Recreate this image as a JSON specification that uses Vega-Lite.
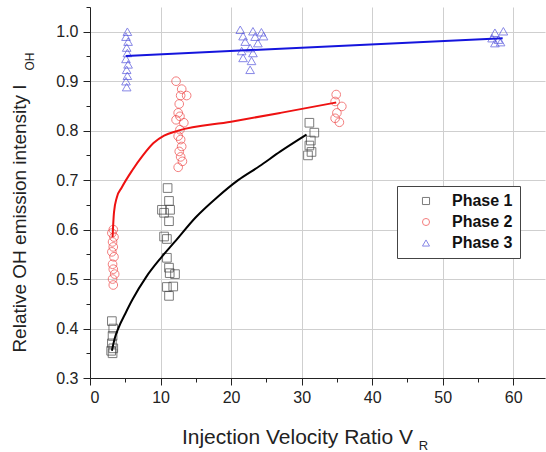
{
  "$schema": "https://vega.github.io/schema/vega-lite/v6.json",
  "width": 455,
  "height": 371,
  "autosize": {"type": "none"},
  "padding": {"left": 90, "top": 7, "right": 1, "bottom": 74},
  "background": "white",
  "config": {
    "view": {"stroke": null},
    "font": "Liberation Sans",
    "axis": {"labelFont": "Liberation Sans", "titleFont": "Liberation Sans", "titleFontWeight": "normal"}
  },
  "datasets": {
    "pts": [
      {"phase": "Phase 1", "x": 3.1, "y": 0.415}, {"phase": "Phase 1", "x": 3.3, "y": 0.4}, {"phase": "Phase 1", "x": 3.2, "y": 0.385}, {"phase": "Phase 1", "x": 3.1, "y": 0.37}, {"phase": "Phase 1", "x": 3.3, "y": 0.36}, {"phase": "Phase 1", "x": 3.2, "y": 0.35}, {"phase": "Phase 1", "x": 3.0, "y": 0.355},
      {"phase": "Phase 1", "x": 11.0, "y": 0.684}, {"phase": "Phase 1", "x": 11.2, "y": 0.658}, {"phase": "Phase 1", "x": 10.2, "y": 0.64}, {"phase": "Phase 1", "x": 11.35, "y": 0.64}, {"phase": "Phase 1", "x": 10.5, "y": 0.634}, {"phase": "Phase 1", "x": 11.2, "y": 0.617}, {"phase": "Phase 1", "x": 10.5, "y": 0.586}, {"phase": "Phase 1", "x": 10.9, "y": 0.581}, {"phase": "Phase 1", "x": 10.9, "y": 0.543}, {"phase": "Phase 1", "x": 11.2, "y": 0.523}, {"phase": "Phase 1", "x": 11.3, "y": 0.512}, {"phase": "Phase 1", "x": 12.05, "y": 0.51}, {"phase": "Phase 1", "x": 10.9, "y": 0.484}, {"phase": "Phase 1", "x": 11.8, "y": 0.485}, {"phase": "Phase 1", "x": 11.2, "y": 0.466},
      {"phase": "Phase 1", "x": 31.1, "y": 0.816}, {"phase": "Phase 1", "x": 31.8, "y": 0.796}, {"phase": "Phase 1", "x": 31.3, "y": 0.78}, {"phase": "Phase 1", "x": 31.1, "y": 0.77}, {"phase": "Phase 1", "x": 31.4, "y": 0.757}, {"phase": "Phase 1", "x": 30.9, "y": 0.75},
      {"phase": "Phase 2", "x": 3.3, "y": 0.6}, {"phase": "Phase 2", "x": 3.1, "y": 0.593}, {"phase": "Phase 2", "x": 3.4, "y": 0.585}, {"phase": "Phase 2", "x": 3.2, "y": 0.575}, {"phase": "Phase 2", "x": 3.3, "y": 0.565}, {"phase": "Phase 2", "x": 3.1, "y": 0.555}, {"phase": "Phase 2", "x": 3.4, "y": 0.545}, {"phase": "Phase 2", "x": 3.2, "y": 0.53}, {"phase": "Phase 2", "x": 3.3, "y": 0.52}, {"phase": "Phase 2", "x": 3.5, "y": 0.51}, {"phase": "Phase 2", "x": 3.2, "y": 0.5}, {"phase": "Phase 2", "x": 3.3, "y": 0.488},
      {"phase": "Phase 2", "x": 12.2, "y": 0.9}, {"phase": "Phase 2", "x": 13.0, "y": 0.884}, {"phase": "Phase 2", "x": 13.7, "y": 0.871}, {"phase": "Phase 2", "x": 12.85, "y": 0.871}, {"phase": "Phase 2", "x": 12.65, "y": 0.854}, {"phase": "Phase 2", "x": 12.5, "y": 0.836}, {"phase": "Phase 2", "x": 12.75, "y": 0.829}, {"phase": "Phase 2", "x": 12.2, "y": 0.822}, {"phase": "Phase 2", "x": 13.3, "y": 0.816}, {"phase": "Phase 2", "x": 12.75, "y": 0.802}, {"phase": "Phase 2", "x": 12.5, "y": 0.789}, {"phase": "Phase 2", "x": 12.85, "y": 0.782}, {"phase": "Phase 2", "x": 13.0, "y": 0.768}, {"phase": "Phase 2", "x": 12.65, "y": 0.758}, {"phase": "Phase 2", "x": 12.85, "y": 0.747}, {"phase": "Phase 2", "x": 13.1, "y": 0.738}, {"phase": "Phase 2", "x": 12.5, "y": 0.726},
      {"phase": "Phase 2", "x": 34.9, "y": 0.873}, {"phase": "Phase 2", "x": 34.75, "y": 0.859}, {"phase": "Phase 2", "x": 35.7, "y": 0.849}, {"phase": "Phase 2", "x": 35.0, "y": 0.836}, {"phase": "Phase 2", "x": 34.75, "y": 0.825}, {"phase": "Phase 2", "x": 35.35, "y": 0.817},
      {"phase": "Phase 3", "x": 5.3, "y": 1.0}, {"phase": "Phase 3", "x": 5.1, "y": 0.99}, {"phase": "Phase 3", "x": 5.4, "y": 0.98}, {"phase": "Phase 3", "x": 5.2, "y": 0.968}, {"phase": "Phase 3", "x": 5.3, "y": 0.957}, {"phase": "Phase 3", "x": 5.1, "y": 0.945}, {"phase": "Phase 3", "x": 5.4, "y": 0.934}, {"phase": "Phase 3", "x": 5.2, "y": 0.923}, {"phase": "Phase 3", "x": 5.3, "y": 0.911}, {"phase": "Phase 3", "x": 5.1, "y": 0.9}, {"phase": "Phase 3", "x": 5.2, "y": 0.888},
      {"phase": "Phase 3", "x": 21.3, "y": 1.004}, {"phase": "Phase 3", "x": 23.1, "y": 1.001}, {"phase": "Phase 3", "x": 24.3, "y": 0.999}, {"phase": "Phase 3", "x": 21.7, "y": 0.991}, {"phase": "Phase 3", "x": 23.4, "y": 0.99}, {"phase": "Phase 3", "x": 24.6, "y": 0.991}, {"phase": "Phase 3", "x": 22.0, "y": 0.98}, {"phase": "Phase 3", "x": 23.8, "y": 0.977}, {"phase": "Phase 3", "x": 22.7, "y": 0.967}, {"phase": "Phase 3", "x": 21.5, "y": 0.961}, {"phase": "Phase 3", "x": 23.1, "y": 0.957}, {"phase": "Phase 3", "x": 21.7, "y": 0.947}, {"phase": "Phase 3", "x": 22.9, "y": 0.941}, {"phase": "Phase 3", "x": 22.7, "y": 0.923},
      {"phase": "Phase 3", "x": 57.4, "y": 0.998}, {"phase": "Phase 3", "x": 58.6, "y": 1.001}, {"phase": "Phase 3", "x": 57.0, "y": 0.987}, {"phase": "Phase 3", "x": 57.9, "y": 0.984}, {"phase": "Phase 3", "x": 57.4, "y": 0.977}, {"phase": "Phase 3", "x": 58.2, "y": 0.979}
    ],
    "fits": [
      {"phase": "Phase 1", "x": 3.1, "y": 0.355}, {"phase": "Phase 1", "x": 3.5, "y": 0.38}, {"phase": "Phase 1", "x": 4, "y": 0.4}, {"phase": "Phase 1", "x": 5, "y": 0.43}, {"phase": "Phase 1", "x": 6, "y": 0.458}, {"phase": "Phase 1", "x": 8, "y": 0.505}, {"phase": "Phase 1", "x": 10, "y": 0.542}, {"phase": "Phase 1", "x": 12, "y": 0.575}, {"phase": "Phase 1", "x": 15, "y": 0.625}, {"phase": "Phase 1", "x": 18, "y": 0.665}, {"phase": "Phase 1", "x": 21, "y": 0.7}, {"phase": "Phase 1", "x": 24, "y": 0.728}, {"phase": "Phase 1", "x": 27, "y": 0.758}, {"phase": "Phase 1", "x": 30.7, "y": 0.792},
      {"phase": "Phase 2", "x": 3.2, "y": 0.585}, {"phase": "Phase 2", "x": 3.4, "y": 0.635}, {"phase": "Phase 2", "x": 3.8, "y": 0.665}, {"phase": "Phase 2", "x": 4.5, "y": 0.685}, {"phase": "Phase 2", "x": 6, "y": 0.72}, {"phase": "Phase 2", "x": 7.5, "y": 0.75}, {"phase": "Phase 2", "x": 9, "y": 0.775}, {"phase": "Phase 2", "x": 10.5, "y": 0.79}, {"phase": "Phase 2", "x": 12.5, "y": 0.8}, {"phase": "Phase 2", "x": 20, "y": 0.818}, {"phase": "Phase 2", "x": 27, "y": 0.836}, {"phase": "Phase 2", "x": 34.9, "y": 0.857},
      {"phase": "Phase 3", "x": 5.1, "y": 0.951}, {"phase": "Phase 3", "x": 58.5, "y": 0.987}
    ]
  },
  "resolve": {"axis": {"x": "independent", "y": "independent"}},
  "layer": [
    {
      "data": {"name": "pts"},
      "mark": {"type": "point", "filled": false, "strokeWidth": 1, "size": 75},
      "encoding": {
        "x": {"field": "x", "type": "quantitative",
          "scale": {"domain": [0, 64.5], "nice": false, "zero": false},
          "axis": {"orient": "bottom", "values": [0, 5, 10, 15, 20, 25, 30, 35, 40, 45, 50, 55, 60],
            "labelExpr": "datum.value % 10 === 0 ? datum.label : ''", "format": "d",
            "labelFontSize": 16, "labelColor": "#222",
            "tickSize": {"condition": {"test": "datum.value % 10 === 0", "value": 7}, "value": 4},
            "gridOpacity": {"condition": {"test": "datum.value % 10 === 0", "value": 1}, "value": 0},
            "tickColor": "#222", "domainColor": "#222", "labelPadding": 4, "grid": true, "gridColor": "#cfcfcf",
            "title": "Injection Velocity Ratio V", "titleFontSize": 21, "titleColor": "#222", "titleX": 207, "titleY": 65, "titleBaseline": "alphabetic"}},
        "y": {"field": "y", "type": "quantitative",
          "scale": {"domain": [0.3, 1.05], "nice": false, "zero": false},
          "axis": {"orient": "left", "values": [0.3, 0.35, 0.4, 0.45, 0.5, 0.55, 0.6, 0.65, 0.7, 0.75, 0.8, 0.85, 0.9, 0.95, 1.0, 1.05],
            "format": ".1f",
            "labelExpr": "abs(datum.value * 10 - round(datum.value * 10)) < 0.001 ? datum.label : ''",
            "tickSize": {"condition": {"test": "abs(datum.value * 10 - round(datum.value * 10)) < 0.001", "value": 7}, "value": 4},
            "gridOpacity": {"condition": {"test": "abs(datum.value * 10 - round(datum.value * 10)) < 0.001", "value": 1}, "value": 0},
            "labelFontSize": 16, "labelColor": "#222", "tickColor": "#222", "domainColor": "#222", "labelPadding": 5, "grid": true, "gridColor": "#cfcfcf",
            "title": "Relative OH emission intensity I", "titleFontSize": 19, "titleColor": "#222", "titleAngle": -90, "titleX": -65, "titleY": 211, "titleBaseline": "alphabetic"}},
        "color": {"field": "phase", "type": "nominal",
          "scale": {"domain": ["Phase 1", "Phase 2", "Phase 3"], "range": ["#444444", "#f04848", "#5555dd"]},
          "legend": {"title": null, "orient": "none", "legendX": 307, "legendY": 179, "strokeColor": "#444", "fillColor": "white", "padding": 7, "symbolOffset": 14, "labelOffset": 18, "labelFontSize": 16, "labelFontWeight": "bold", "labelColor": "#111", "labelFont": "Liberation Sans", "symbolSize": 50, "symbolStrokeWidth": 1, "rowPadding": 5}},
        "shape": {"field": "phase", "type": "nominal",
          "scale": {"domain": ["Phase 1", "Phase 2", "Phase 3"], "range": ["square", "circle", "triangle-up"]}}
      }
    },
    {
      "data": {"name": "fits"},
      "mark": {"type": "line", "strokeWidth": 2, "interpolate": "monotone"},
      "encoding": {
        "x": {"field": "x", "type": "quantitative",
          "axis": {"orient": "bottom", "ticks": false, "labels": false, "domain": false, "grid": false, "title": "R", "titleFontSize": 13, "titleColor": "#222", "titleX": 333, "titleY": 71, "titleBaseline": "alphabetic"}},
        "y": {"field": "y", "type": "quantitative",
          "axis": {"orient": "left", "offset": 34, "ticks": false, "labels": false, "domain": false, "grid": false, "title": "OH", "titleFontSize": 12, "titleColor": "#222", "titleAngle": -90, "titleX": -23, "titleY": 54, "titleBaseline": "alphabetic"}},
        "detail": {"field": "phase"},
        "stroke": {"field": "phase", "type": "nominal", "legend": null,
          "scale": {"domain": ["Phase 1", "Phase 2", "Phase 3"], "range": ["#000000", "#ee1111", "#1515dd"]}}
      }
    }
  ]
}
